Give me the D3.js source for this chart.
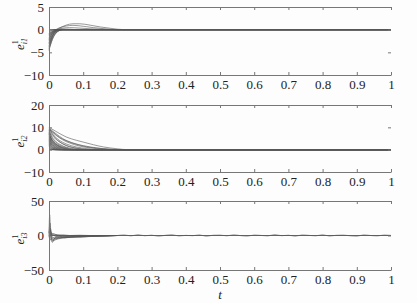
<!DOCTYPE html>
<html>
<head>
<meta charset="utf-8">
<script src="https://cdn.jsdelivr.net/npm/d3@7"></script>
<style>
  body { margin: 0; background: #fdfdfd; }
  svg { display: block; }
  text { font-family: "Times New Roman", "Liberation Serif", Times, serif; fill: #222; }
</style>
</head>
<body>
<svg id="chart" width="417" height="303"></svg>
<script>
// tick values
const tTicks = [0, 0.1, 0.2, 0.3, 0.4, 0.5, 0.6, 0.7, 0.8, 0.9, 1]
const e1Ticks = [5, 0, -5, -10]
const e2Ticks = [20, 10, 0, -10]
const e3Ticks = [50, 0, -50]

// e_i1 trajectories, [t, value]
const e1Curves = [
  [[0, -4.6], [0.005, -3.2], [0.01, -2.0], [0.02, -0.8], [0.03, -0.2], [0.045, 0], [1, 0]],
  [[0, -4.3], [0.004, -3.4], [0.01, -2.2], [0.018, -1.0], [0.028, -0.3], [0.04, 0], [1, 0]],
  [[0, -4.1], [0.005, -2.7], [0.01, -1.6], [0.02, -0.5], [0.03, -0.1], [0.04, 0], [1, 0]],
  [[0, -3.8], [0.004, -2.9], [0.01, -1.8], [0.02, -0.7], [0.03, -0.2], [0.04, 0], [1, 0]],
  [[0, -3.6], [0.005, -2.4], [0.012, -1.2], [0.02, -0.4], [0.035, 0], [1, 0]],
  [[0, -3.2], [0.006, -2.0], [0.012, -1.0], [0.022, -0.3], [0.035, 0], [1, 0]],
  [[0, -3.0], [0.004, -2.2], [0.01, -1.3], [0.018, -0.6], [0.028, -0.1], [0.035, 0], [1, 0]],
  [[0, -2.8], [0.006, -1.7], [0.014, -0.8], [0.025, -0.1], [0.035, 0.05], [0.05, 0], [1, 0]],
  [[0, -2.4], [0.005, -1.5], [0.012, -0.6], [0.02, -0.2], [0.03, 0], [1, 0]],
  [[0, -2.2], [0.004, -1.6], [0.01, -0.9], [0.018, -0.4], [0.028, 0], [1, 0]],
  [[0, -2.0], [0.006, -1.2], [0.014, -0.5], [0.025, 0], [0.04, 0.15], [0.06, 0.1], [0.08, 0], [1, 0]],
  [[0, -1.7], [0.005, -1.0], [0.012, -0.4], [0.02, -0.1], [0.03, 0], [1, 0]],
  [[0, -1.4], [0.006, -0.8], [0.015, -0.3], [0.025, 0], [1, 0]],
  [[0, -1.1], [0.006, -0.6], [0.012, -0.25], [0.02, 0], [1, 0]],
  [[0, -0.8], [0.005, -0.4], [0.012, -0.1], [0.02, 0], [1, 0]],
  [[0, -0.5], [0.006, -0.2], [0.015, 0], [1, 0]],
  [[0, -1.0], [0.01, -0.6], [0.02, -0.1], [0.035, 0.5], [0.05, 1.0], [0.07, 1.3], [0.09, 1.3], [0.12, 1.0], [0.15, 0.6], [0.18, 0.3], [0.22, 0], [1, 0]],
  [[0, -0.8], [0.015, -0.2], [0.03, 0.4], [0.05, 0.8], [0.07, 0.95], [0.1, 0.75], [0.13, 0.45], [0.17, 0.15], [0.2, 0], [1, 0]],
  [[0, -1.5], [0.01, -0.8], [0.025, 0], [0.04, 0.35], [0.06, 0.45], [0.09, 0.35], [0.12, 0.2], [0.16, 0.05], [0.19, 0], [1, 0]]
]

// e_i2 trajectories
const e2Curves = [
  [[0, 10], [0.02, 8.2], [0.05, 5.7], [0.08, 4.2], [0.1, 3.4], [0.13, 2.2], [0.16, 1.2], [0.2, 0.4], [0.23, 0], [1, 0]],
  [[0, 9.6], [0.02, 7.2], [0.04, 5.0], [0.07, 3.0], [0.1, 1.8], [0.14, 0.8], [0.18, 0.2], [0.21, 0], [1, 0]],
  [[0, 9.2], [0.02, 6.5], [0.04, 4.4], [0.06, 3.0], [0.09, 1.6], [0.12, 0.8], [0.16, 0.2], [0.19, 0], [1, 0]],
  [[0, 8.8], [0.015, 6.2], [0.03, 4.2], [0.05, 2.6], [0.08, 1.2], [0.11, 0.5], [0.15, 0], [1, 0]],
  [[0, 8.4], [0.01, 6.2], [0.025, 4.1], [0.04, 2.7], [0.06, 1.4], [0.09, 0.5], [0.12, 0], [1, 0]],
  [[0, 8.0], [0.01, 5.4], [0.02, 3.6], [0.035, 2.1], [0.05, 1.1], [0.08, 0.3], [0.1, 0], [1, 0]],
  [[0, 7.4], [0.008, 4.8], [0.02, 2.7], [0.03, 1.7], [0.05, 0.6], [0.07, 0], [1, 0]],
  [[0, 7.0], [0.006, 5.0], [0.015, 3.2], [0.025, 2.0], [0.04, 0.9], [0.06, 0.2], [0.07, 0], [1, 0]],
  [[0, 6.8], [0.01, 4.0], [0.02, 2.3], [0.035, 0.9], [0.05, 0.2], [0.06, 0], [1, 0]],
  [[0, 6.4], [0.006, 4.2], [0.014, 2.6], [0.025, 1.3], [0.04, 0.4], [0.05, 0], [1, 0]],
  [[0, 6.0], [0.008, 3.6], [0.018, 1.9], [0.03, 0.7], [0.045, 0], [1, 0]],
  [[0, 5.6], [0.005, 3.8], [0.012, 2.4], [0.022, 1.2], [0.035, 0.3], [0.045, 0], [1, 0]],
  [[0, 5.2], [0.008, 2.9], [0.015, 1.6], [0.025, 0.5], [0.04, 0], [1, 0]],
  [[0, 4.8], [0.005, 3.2], [0.012, 1.9], [0.02, 1.0], [0.03, 0.3], [0.04, 0], [1, 0]],
  [[0, 4.4], [0.006, 2.6], [0.014, 1.2], [0.025, 0.3], [0.035, 0], [1, 0]],
  [[0, 4.0], [0.005, 2.6], [0.012, 1.4], [0.02, 0.6], [0.03, 0], [1, 0]],
  [[0, 3.6], [0.006, 2.0], [0.012, 0.9], [0.02, 0.2], [0.03, 0], [1, 0]],
  [[0, 3.2], [0.005, 2.0], [0.01, 1.1], [0.018, 0.4], [0.026, 0], [1, 0]],
  [[0, 2.8], [0.006, 1.4], [0.012, 0.6], [0.02, 0], [1, 0]],
  [[0, 2.4], [0.005, 1.4], [0.01, 0.7], [0.016, 0.2], [0.022, 0], [1, 0]],
  [[0, 2.0], [0.005, 1.0], [0.01, 0.4], [0.018, 0], [1, 0]],
  [[0, 1.6], [0.004, 0.9], [0.01, 0.3], [0.015, 0], [1, 0]],
  [[0, 1.2], [0.005, 0.5], [0.012, 0], [1, 0]],
  [[0, 0.8], [0.004, 0.3], [0.01, 0], [1, 0]],
  [[0, 9.8], [0.01, 7.0], [0.02, 5.0], [0.03, 3.6], [0.05, 1.8], [0.07, 0.9], [0.1, 0.2], [0.12, 0], [1, 0]],
  [[0, 9.0], [0.005, 6.5], [0.015, 4.0], [0.025, 2.6], [0.04, 1.4], [0.06, 0.5], [0.08, 0], [1, 0]],
  [[0, 7.8], [0.005, 5.2], [0.012, 3.4], [0.022, 2.0], [0.035, 1.0], [0.05, 0.3], [0.065, 0], [1, 0]],
  [[0, 9.4], [0.015, 7.4], [0.03, 5.6], [0.05, 4.0], [0.08, 2.4], [0.11, 1.3], [0.15, 0.5], [0.19, 0.1], [0.22, 0], [1, 0]]
]

// e_i3 trajectories
const e3Curves = [
  [[0, 4], [0.002, 30], [0.004, 12], [0.006, -6], [0.01, -10], [0.015, -5], [0.02, -3], [0.03, -4], [0.05, -2], [0.08, -1.5], [0.12, -0.5], [0.17, -0.3], [0.2, 0]],
  [[0, 2], [0.003, 18], [0.006, 2], [0.01, -7], [0.02, -5], [0.03, -3.5], [0.05, -2.5], [0.07, -1.8], [0.1, -1.2], [0.14, -0.6], [0.2, 0]],
  [[0, -2], [0.004, 8], [0.008, -4], [0.012, -6], [0.02, -2], [0.03, -1], [0.05, -3], [0.08, -2], [0.12, -1], [0.16, -0.4], [0.2, 0]],
  [[0, 0], [0.004, 5], [0.01, 3], [0.02, 1.5], [0.03, 0.5], [0.05, -1], [0.07, -0.5], [0.1, -1.5], [0.14, -1], [0.18, -0.2], [0.2, 0]],
  [[0, 1], [0.005, -3], [0.01, -8], [0.02, -6], [0.035, -4], [0.05, -3.2], [0.07, -2.5], [0.1, -2], [0.13, -1.3], [0.17, -0.8], [0.2, 0]],
  [[0, -1], [0.006, 3], [0.012, 1], [0.02, -1.5], [0.04, -2], [0.06, -1], [0.09, -0.6], [0.12, -0.8], [0.16, -0.3], [0.2, 0]],
  [[0, 3], [0.004, 10], [0.008, 0], [0.014, -4], [0.025, -3], [0.04, -1.5], [0.06, -2.2], [0.09, -1], [0.13, -0.5], [0.2, 0]],
  [[0, -3], [0.005, -6], [0.012, -3], [0.02, -4.5], [0.03, -2.5], [0.045, -3.5], [0.065, -2], [0.09, -2.4], [0.12, -1.2], [0.16, -0.6], [0.2, 0]],
  [[0, 0], [0.006, 1.5], [0.015, 2], [0.025, 0.5], [0.04, 1], [0.06, 0], [0.09, 0.4], [0.13, -0.2], [0.2, 0]]
]
// steady-state ripple of e_i3 after t = 0.2, one value every 0.02
const e3RippleT = d3.range(0.2, 1.0001, 0.02)
const e3Ripple = [0, 0.8, -0.6, 1.2, -0.4, 0.5, -1.0, 0.3, 1.1, -0.7, 0.2, -0.3, 0.9, -1.1, 0.4, 0.6, -0.5, 1.0, -0.2, -0.9,
  0.7, 0.1, -0.6, 1.3, -0.3, 0.4, -1.0, 0.8, 0.2, -0.5, 1.1, -0.8, 0.3, 0.6, -0.4, -1.0, 0.9, 0.0, -0.6, 0.7, 0.2]

const svg = d3.select('#chart')
const left = 49, right = 391
const serif = '"Times New Roman", "Liberation Serif", Times, serif'

const x = d3.scaleLinear().domain([0, 1]).range([left, right])

const panels = [
  { curves: e1Curves, domain: [-10, 5], ticks: e1Ticks, top: 7, bottom: 75, sub: 'i1' },
  { curves: e2Curves, domain: [-10, 20], ticks: e2Ticks, top: 105, bottom: 172, sub: 'i2' },
  { curves: e3Curves.concat([e3RippleT.map((t, i) => [t, e3Ripple[i]])]), domain: [-50, 50], ticks: e3Ticks, top: 201, bottom: 270, sub: 'i3' }
]

panels.forEach(function (p) {
  const y = d3.scaleLinear().domain(p.domain).range([p.bottom, p.top])
  const g = svg.append('g')

  const line = d3.line()
    .x(d => x(d[0]))
    .y(d => y(d[1]))
    .curve(d3.curveMonotoneX)

  // zero line where the errors settle
  g.append('line')
    .attr('x1', x(0)).attr('x2', x(1))
    .attr('y1', y(0)).attr('y2', y(0))
    .attr('stroke', '#666').attr('stroke-width', 1)

  g.selectAll('.traj')
    .data(p.curves)
    .enter()
    .append('path')
    .attr('class', 'traj')
    .attr('d', line)
    .attr('fill', 'none')
    .attr('stroke', '#555')
    .attr('stroke-width', 0.6)

  // axes, ticks pointing inward like matlab
  const xb = g.append('g')
    .attr('transform', 'translate(0,' + p.bottom + ')')
    .call(d3.axisBottom(x).tickValues(tTicks).tickSizeInner(-3).tickSizeOuter(0).tickPadding(5).tickFormat(d3.format('~g')))
  const xt = g.append('g')
    .attr('transform', 'translate(0,' + p.top + ')')
    .call(d3.axisTop(x).tickValues(tTicks).tickSizeInner(-3).tickSizeOuter(0).tickFormat(''))
  const yl = g.append('g')
    .attr('transform', 'translate(' + left + ',0)')
    .call(d3.axisLeft(y).tickValues(p.ticks).tickSizeInner(-3).tickSizeOuter(0).tickPadding(5))
  const yr = g.append('g')
    .attr('transform', 'translate(' + right + ',0)')
    .call(d3.axisRight(y).tickValues(p.ticks).tickSizeInner(-3).tickSizeOuter(0).tickFormat(''))
  yr.select('.domain').remove()

  ;[xb, xt, yl, yr].forEach(function (a) {
    a.attr('font-family', serif)
    a.selectAll('path, line').attr('stroke', '#777')
    a.selectAll('text').attr('font-size', 13).attr('fill', '#222')
  })

  // y label e^1_{ix}
  const cy = (p.top + p.bottom) / 2 + 3
  const lab = g.append('text')
    .attr('transform', 'translate(24,' + cy + ') rotate(-90)')
    .attr('text-anchor', 'middle')
    .attr('font-family', serif)
    .attr('font-size', 13)
    .style('font-style', 'italic')
  lab.append('tspan').text('e')
  lab.append('tspan').attr('font-size', 8).attr('dy', -6).style('font-style', 'normal').text('1')
  lab.append('tspan').attr('font-size', 8).attr('dx', -4).attr('dy', 9).text(p.sub)
})

svg.append('text')
  .attr('x', x(0.5))
  .attr('y', 299)
  .attr('text-anchor', 'middle')
  .attr('font-family', serif)
  .attr('font-size', 13)
  .style('font-style', 'italic')
  .text('t')
</script>
</body>
</html>
